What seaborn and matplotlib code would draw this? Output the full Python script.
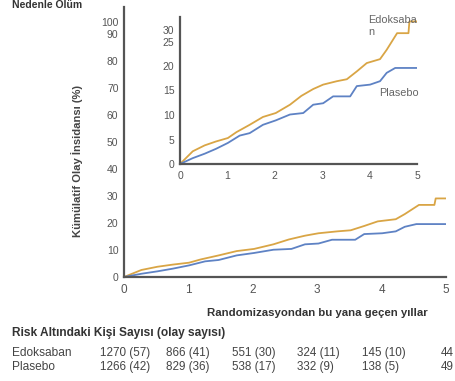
import matplotlib
matplotlib.use("Agg")
import matplotlib.pyplot as plt
import seaborn as sns
import pandas as pd

# cumulative incidence curves (years, %)
edox_t = [0, 0.27, 0.52, 0.76, 1.01, 1.19, 1.47, 1.75, 2.02, 2.32, 2.56, 2.81,
          3.02, 3.31, 3.52, 3.73, 3.94, 4.22, 4.36, 4.58, 4.82, 4.84, 5.0]
edox_y = [0, 2.6, 3.8, 4.6, 5.3, 6.5, 8.0, 9.6, 10.4, 12.1, 13.9, 15.3,
          16.2, 16.9, 17.3, 18.9, 20.6, 21.4, 23.3, 26.7, 26.7, 29.1, 29.1]
plac_t = [0, 0.27, 0.52, 0.76, 1.01, 1.26, 1.47, 1.75, 2.02, 2.32, 2.60, 2.81,
          3.02, 3.23, 3.59, 3.73, 4.01, 4.22, 4.36, 4.54, 5.0]
plac_y = [0, 1.2, 2.1, 3.1, 4.3, 5.8, 6.3, 8.0, 8.9, 10.1, 10.4, 12.1,
          12.4, 13.8, 13.8, 15.9, 16.2, 16.9, 18.6, 19.6, 19.6]

# risk table
risk_edox = ["1270 (57)", "866 (41)", "551 (30)", "324 (11)", "145 (10)", "44"]
risk_plac = ["1266 (42)", "829 (36)", "538 (17)", "332 (9)", "138 (5)", "49"]

main_ticks = [0, 10, 20, 30, 40, 50, 60, 70, 80, 90, 100]
inset_ticks = [0, 5, 10, 15, 20, 25, 30]

df = pd.DataFrame({
    "yil": edox_t + plac_t,
    "olay": edox_y + plac_y,
    "grup": ["Edoksaban"] * len(edox_t) + ["Plasebo"] * len(plac_t),
})

sns.set_style("white")
plt.rcParams["font.family"] = ["Liberation Sans", "DejaVu Sans"]

orange = "#D9A545"
blue = "#5E82C4"
grey = "#555555"
palette = {"Edoksaban": orange, "Plasebo": blue}

fig = plt.figure(figsize=(4.55, 3.81), dpi=100)
ax = fig.add_axes([124 / 455, 1 - 277 / 381, 322 / 455, 270 / 381])
ins = fig.add_axes([180 / 455, 1 - 164 / 381, 237 / 455, 147 / 381])


def style_axis(a, ylim, yticks, ticklabels, fs):
    a.set_xlim(0, 5)
    a.set_ylim(*ylim)
    a.set_xticks([0, 1, 2, 3, 4, 5])
    a.set_yticks(yticks)
    a.set_yticklabels(ticklabels)
    for s in ["top", "right"]:
        a.spines[s].set_visible(False)
    for s in ["left", "bottom"]:
        a.spines[s].set_color(grey)
        a.spines[s].set_linewidth(1.6)
    a.tick_params(axis="both", length=3, width=1.4, color=grey,
                  labelsize=fs, labelcolor=grey, pad=1, direction="out")
    a.tick_params(axis="x", pad=2)
    a.set_xlabel("")
    a.set_ylabel("")
    a.set_facecolor("none")


for a in [ax, ins]:
    sns.lineplot(data=df, x="yil", y="olay", hue="grup", palette=palette,
                 sort=False, linewidth=1.3, legend=False, ax=a)

# tick labels at the top are squeezed in the original picture
style_axis(ax, (0, 100), [0, 10, 20, 30, 40, 50, 60, 70, 80, 90, 94.5],
           [str(t) for t in main_ticks], 7.5)
style_axis(ins, (0, 30), [0, 5, 10, 15, 20, 25, 27.3],
           [str(t) for t in inset_ticks], 7.5)
ax.tick_params(axis="x", labelsize=8.5)

ax.set_xlabel("Randomizasyondan bu yana geçen yıllar", fontsize=8.2,
              fontweight="bold", color="#333333")
ax.xaxis.set_label_coords(0.60, -0.115)
fig.text(77 / 455, 1 - 161 / 381, "Kümülatif Olay İnsidansı (%)",
         rotation=90, ha="center", va="center", fontsize=8.1,
         fontweight="bold", color="#444444")

ins.text(3.97, 30.5, "Edoksaba\nn", fontsize=7.8, color="#666666",
         va="top", ha="left", linespacing=1.25)
ins.text(4.2, 15.5, "Plasebo", fontsize=7.8, color="#666666",
         va="top", ha="left")

fig.text(12 / 455, 1 - 5 / 381, "Nedenle Ölüm", fontsize=7.5,
         fontweight="bold", color="#333333", va="center", ha="left")

# risk table
fig.text(12 / 455, 1 - 333 / 381, "Risk Altındaki Kişi Sayısı (olay sayısı)",
         fontsize=8.6, fontweight="bold", color="#333333", va="center")
col_x = [100, 166, 232, 297, 362, 441]
for label, row, y in [("Edoksaban", risk_edox, 353), ("Plasebo", risk_plac, 367)]:
    fig.text(12 / 455, 1 - y / 381, label, fontsize=8.6, color="#444444",
             va="center")
    for x, val in zip(col_x, row):
        fig.text(x / 455, 1 - y / 381, val, fontsize=8.4, color="#444444",
                 va="center")

fig.savefig("out.png", dpi=100)
